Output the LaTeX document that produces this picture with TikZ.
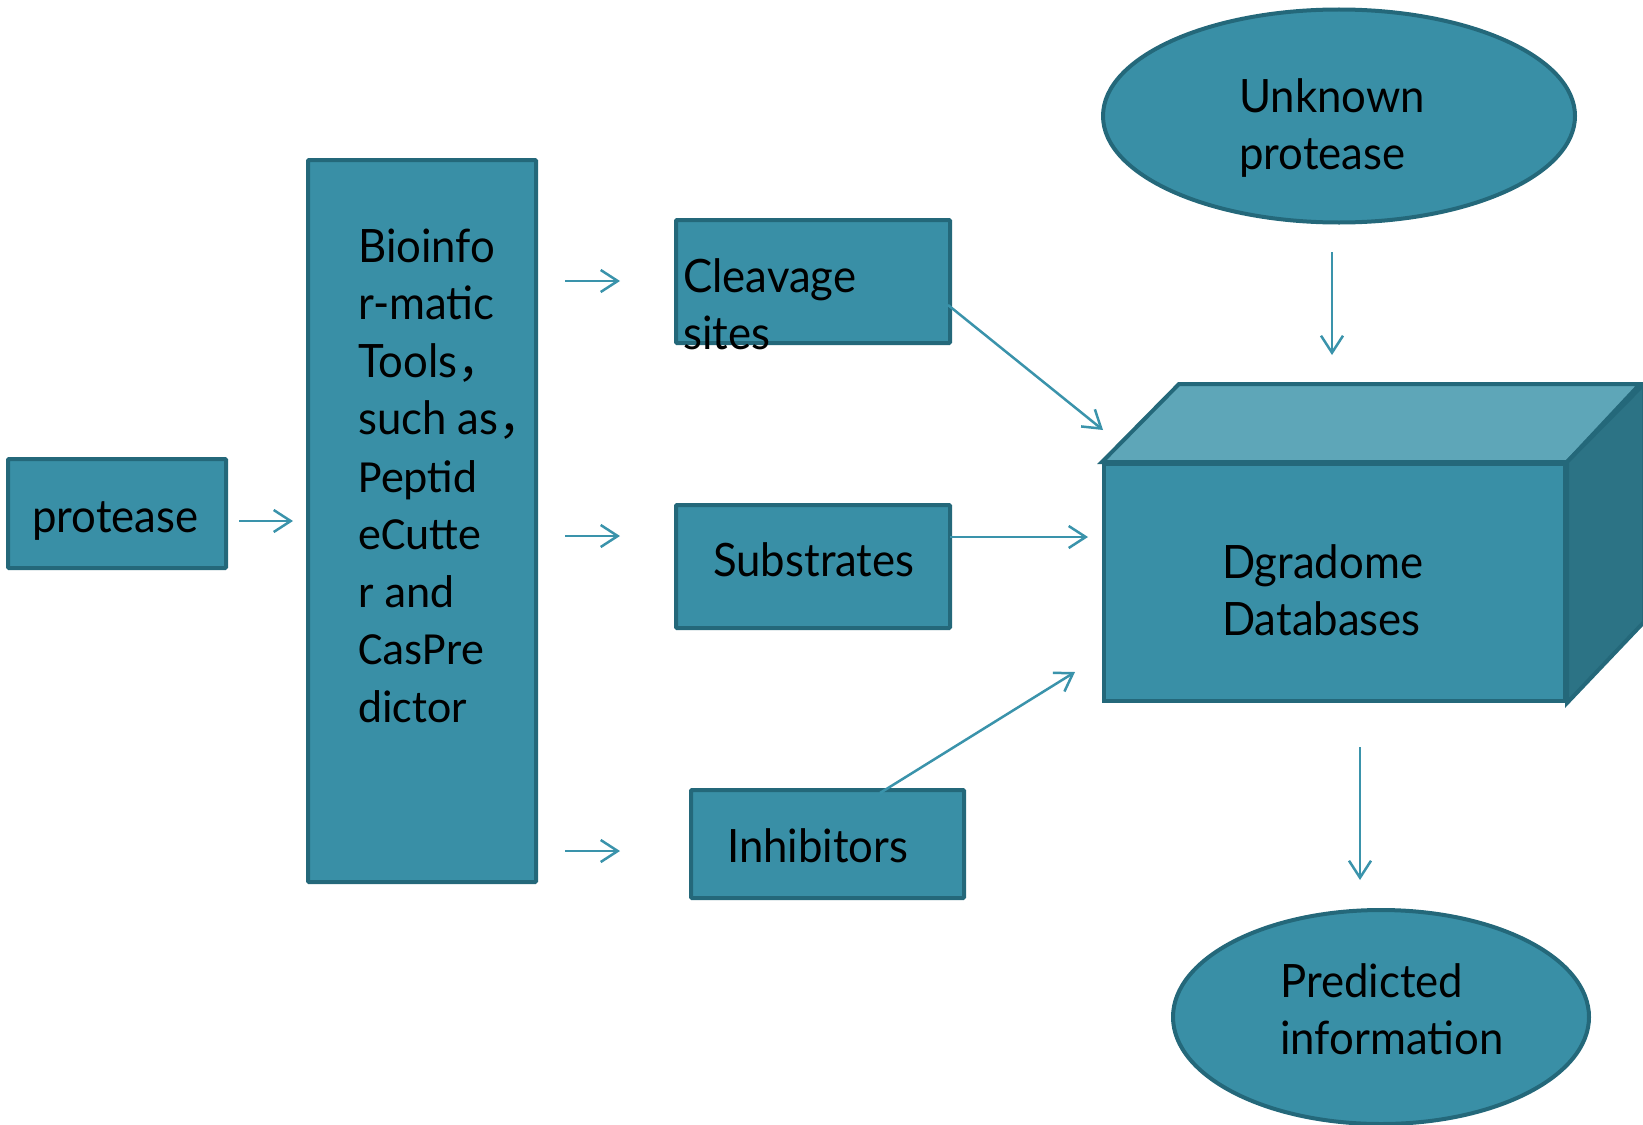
\documentclass[tikz,border=0pt]{standalone}
\usepackage{fontspec}
\setmainfont[FakeStretch=0.95]{Lato}
\newfontfamily\calib{Carlito}
\newfontfamily\cjk{Noto Sans CJK SC}
\usetikzlibrary{arrows.meta,shapes.geometric,calc}
\definecolor{tealfill}{HTML}{398FA6}
\definecolor{tealedge}{HTML}{24687A}
\definecolor{tealtop}{HTML}{5EA6B8}
\definecolor{tealside}{HTML}{2C7385}
\definecolor{arrowc}{HTML}{3A93AB}
\tikzset{
  boxshape/.style={draw=tealedge, fill=tealfill, line width=4pt, rounded corners=1pt, inner sep=0pt},
  ovalshape/.style={ellipse, draw=tealedge, fill=tealfill, line width=4pt, inner sep=0pt},
  lbl/.style={anchor=base west, inner sep=0pt, font=\fontsize{46}{57.5}\selectfont},
  arr/.style={draw=arrowc, line width=2.5pt, -{Straight Barb[length=17pt,width=22pt]}},
}
\newcommand{\cfont}{\calib\fontsize{46}{57.5}\selectfont}
\begin{document}
\begin{tikzpicture}[x=1pt,y=-1pt]
\useasboundingbox (0,0) rectangle (1643,1124);
% shapes
\node[boxshape, minimum width=218pt, minimum height=109pt] (prot) at (117,513.5) {};
\node[boxshape, minimum width=228pt, minimum height=722pt] (tools) at (422,521) {};
\node[boxshape, minimum width=274pt, minimum height=123pt] (cleav) at (813,281.5) {};
\node[boxshape, minimum width=274pt, minimum height=123pt] (subs) at (813,566.5) {};
\node[boxshape, minimum width=273pt, minimum height=108pt] (inhib) at (827.5,844) {};
\node[ovalshape, minimum width=472pt, minimum height=213pt] (unk) at (1339,116) {};
\node[ovalshape, minimum width=416pt, minimum height=214pt] (pred) at (1381,1017) {};
% cube
\node[draw=tealedge, fill=tealfill, line width=4pt, inner sep=0pt, minimum width=461pt, minimum height=237pt] (db) at (1334.5,582.5) {};
\draw[draw=tealedge, fill=tealtop, line width=4pt, line join=miter]
  (db.north west) -- ++(77,-78) -- ++(461,0) -- (db.north east) -- cycle;
\draw[draw=tealedge, fill=tealside, line width=4pt, line join=miter]
  (db.north east) -- ++(77,-78) -- ++(0,238) -- (db.south east) -- cycle;
% labels
\node[lbl] (tprot) at (32,532) {protease};
\node[lbl] (ttools) at (358,262) {\begin{tabular}[t]{@{}l@{}}
Bioinfo\\ r-matic\\ Tools{\cjk ，}\\ such as{\cjk ，}\\
{\cfont Peptid}\\
{\cfont eCutte}\\
{\cfont r and}\\
{\cfont CasPre}\\
{\cfont dictor}\end{tabular}};
\node[lbl] (tcleav) at (683,292) {\begin{tabular}[t]{@{}l@{}}Cleavage\\ sites\end{tabular}};
\node[lbl] (tsubs) at (713,576) {Substrates};
\node[lbl] (tinhib) at (727,862) {Inhibitors};
\node[lbl] (tunk) at (1239,112) {\begin{tabular}[t]{@{}l@{}}Unknown\\ protease\end{tabular}};
\node[lbl] (tdb) at (1222,578) {\begin{tabular}[t]{@{}l@{}}Dgradome\\ Databases\end{tabular}};
\node[lbl] (tpred) at (1280,997) {\begin{tabular}[t]{@{}l@{}}Predicted\\ information\end{tabular}};
% connector end points
\coordinate (p1) at (239,521);  \coordinate (p2) at (293,521);
\coordinate (a1) at (565,281);  \coordinate (b1) at (620,281);
\coordinate (a2) at (565,536);  \coordinate (b2) at (620,536);
\coordinate (a3) at (565,851);  \coordinate (b3) at (620,851);
\coordinate (c1) at (948,305);  \coordinate (d1) at (1103,430);
\coordinate (c2) at (950,537);  \coordinate (d2) at (1088,537);
\coordinate (c3) at (880,793);  \coordinate (d3) at (1075,672);
\coordinate (u1) at (1332,252); \coordinate (u2) at (1332,355);
\coordinate (v1) at (1360,747); \coordinate (v2) at (1360,880);
\draw[arr] (p1) -- (p2);
\draw[arr] (a1) -- (b1);
\draw[arr] (a2) -- (b2);
\draw[arr] (a3) -- (b3);
\draw[arr] (c1) -- (d1);
\draw[arr] (c2) -- (d2);
\draw[arr] (c3) -- (d3);
\draw[arr] (u1) -- (u2);
\draw[arr] (v1) -- (v2);
\end{tikzpicture}
\end{document}
